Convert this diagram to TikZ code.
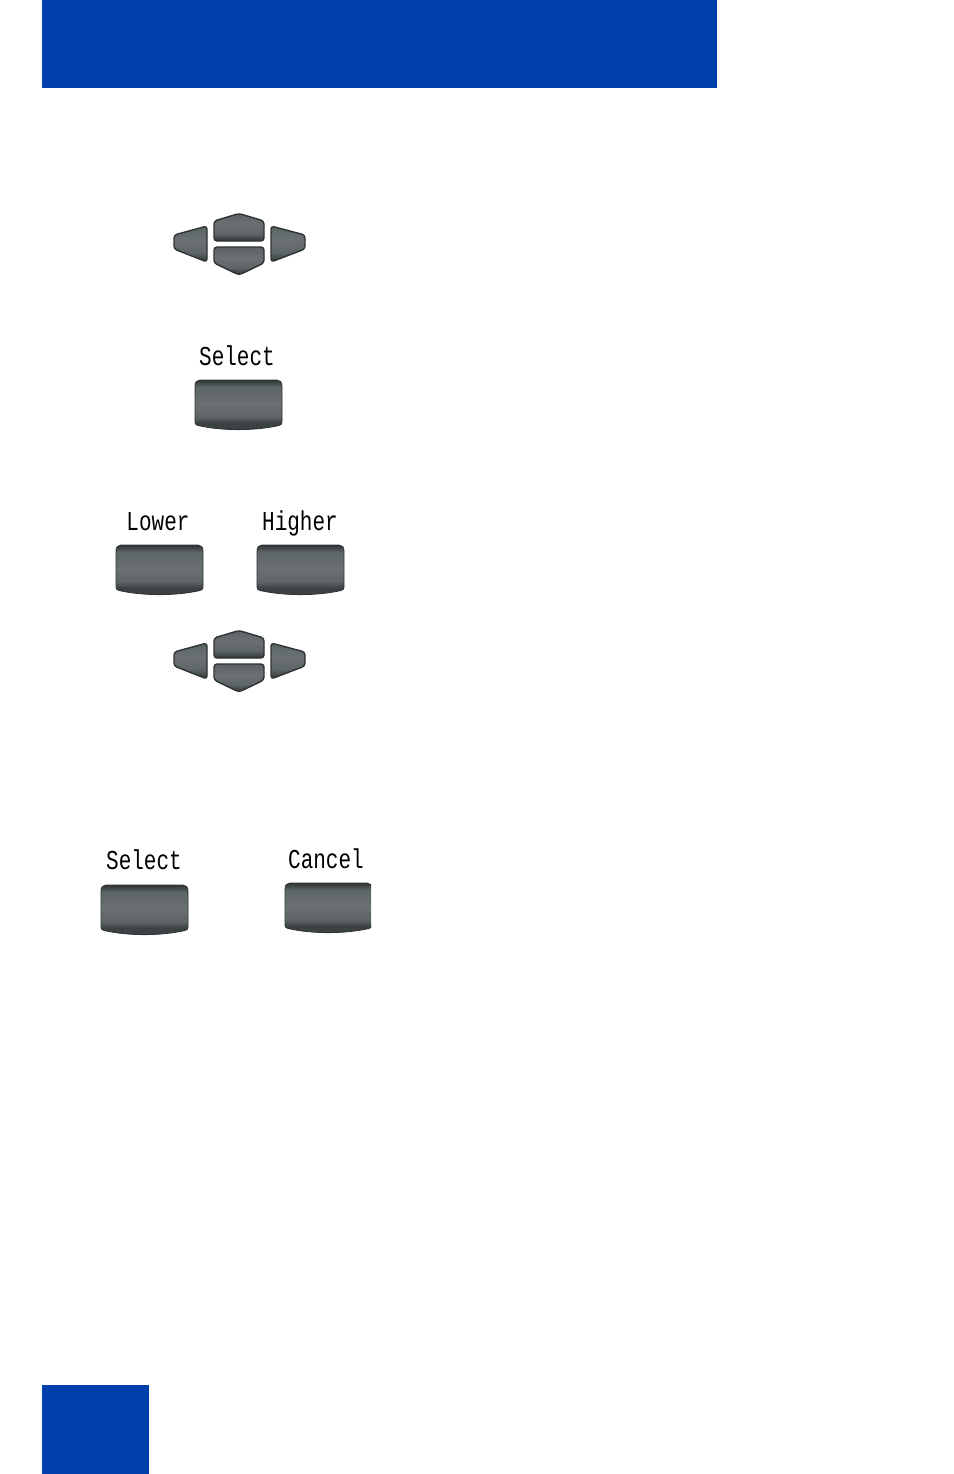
\documentclass[tikz,border=0pt]{standalone}
\usepackage{fontspec}
\setmonofont{Liberation Mono}
\definecolor{headblue}{HTML}{0040AC}
\definecolor{keyedge}{HTML}{2E3333}
\definecolor{keydark}{HTML}{3C4243}
\definecolor{keymid}{HTML}{5E6566}
\definecolor{keylight}{HTML}{6B7172}
\pgfdeclareverticalshading{softshade}{100bp}{color(0bp)=(keyedge); color(25bp)=(keyedge); color(28bp)=(keydark); color(33bp)=(keydark); color(39bp)=(keymid); color(52bp)=(keylight); color(68bp)=(keymid); color(73bp)=(keydark); color(75bp)=(keyedge); color(100bp)=(keyedge)}
\pgfdeclareverticalshading{navshade}{100bp}{color(0bp)=(keyedge); color(25bp)=(keyedge); color(29bp)=(keydark); color(38bp)=(keymid); color(55bp)=(keylight); color(72bp)=(keymid); color(75bp)=(keymid); color(100bp)=(keymid)}
\tikzset{
  x=0.5pt,y=-0.5pt,
  banner/.style={fill=headblue,draw=none},
  softlabel/.style={font=\ttfamily\fontsize{10.5}{12}\selectfont,text=black,inner sep=0pt,anchor=base},
  softbody/.style={shading=softshade,draw=keyedge,line width=0.4pt},
  navbody/.style={shading=navshade,draw=keyedge,line width=0.7pt,line join=round,rounded corners=1.5pt},
  pics/softkey/.style={code={
    \path[softbody] (5,0) -- (82,0) .. controls (85,0) and (87,2) .. (87,6) -- (87,42)
      .. controls (87,44) and (86,45) .. (84,45.5)
      .. controls (60,51) and (27,51) .. (3,45.5)
      .. controls (1,45) and (0,44) .. (0,42) -- (0,6) .. controls (0,2) and (2,0) .. (5,0) -- cycle;
  }},
  pics/navcluster/.style={code={
    % origin at top-left corner of the cluster, (173,213) in the reference
    \path[navbody] (66,0.5) -- (91,8) -- (91,28) -- (41,28) -- (41,8) -- cycle;
    \path[navbody] (41,34) -- (91,34) -- (91,50) -- (66,62) -- (41,50) -- cycle;
    \path[navbody] (1,22) -- (34,13) -- (34,49) -- (1,36) -- cycle;
    \path[navbody] (132,22) -- (98,13) -- (98,49) -- (132,36) -- cycle;
  }}
}
\newcommand{\lcdtext}[1]{\scalebox{1}[1.3]{#1}}
\begin{document}
\begin{tikzpicture}
\useasboundingbox (0,0) rectangle (954,1474);
\path[banner] (42,0) rectangle (717,88);
\path[banner] (42,1385) rectangle (149,1474);

\pic (navone) at (173,213) {navcluster};
\node[softlabel] (selectone) at (237,365) {\lcdtext{Select}};
\pic (keyselectone) at (195,380) {softkey};

\node[softlabel] (lower) at (158,530) {\lcdtext{Lower}};
\node[softlabel] (higher) at (300,530) {\lcdtext{Higher}};
\pic (keylower) at (116,545) {softkey};
\pic (keyhigher) at (257,545) {softkey};

\pic (navtwo) at (173,630) {navcluster};

\node[softlabel] (selecttwo) at (144,869) {\lcdtext{Select}};
\node[softlabel] (cancel) at (326,868) {\lcdtext{Cancel}};
\pic (keyselecttwo) at (101,885) {softkey};
\begin{scope}
  \clip (280,875) rectangle (371,940);
  \pic (keycancel) at (285,883) {softkey};
\end{scope}
\end{tikzpicture}
\end{document}
